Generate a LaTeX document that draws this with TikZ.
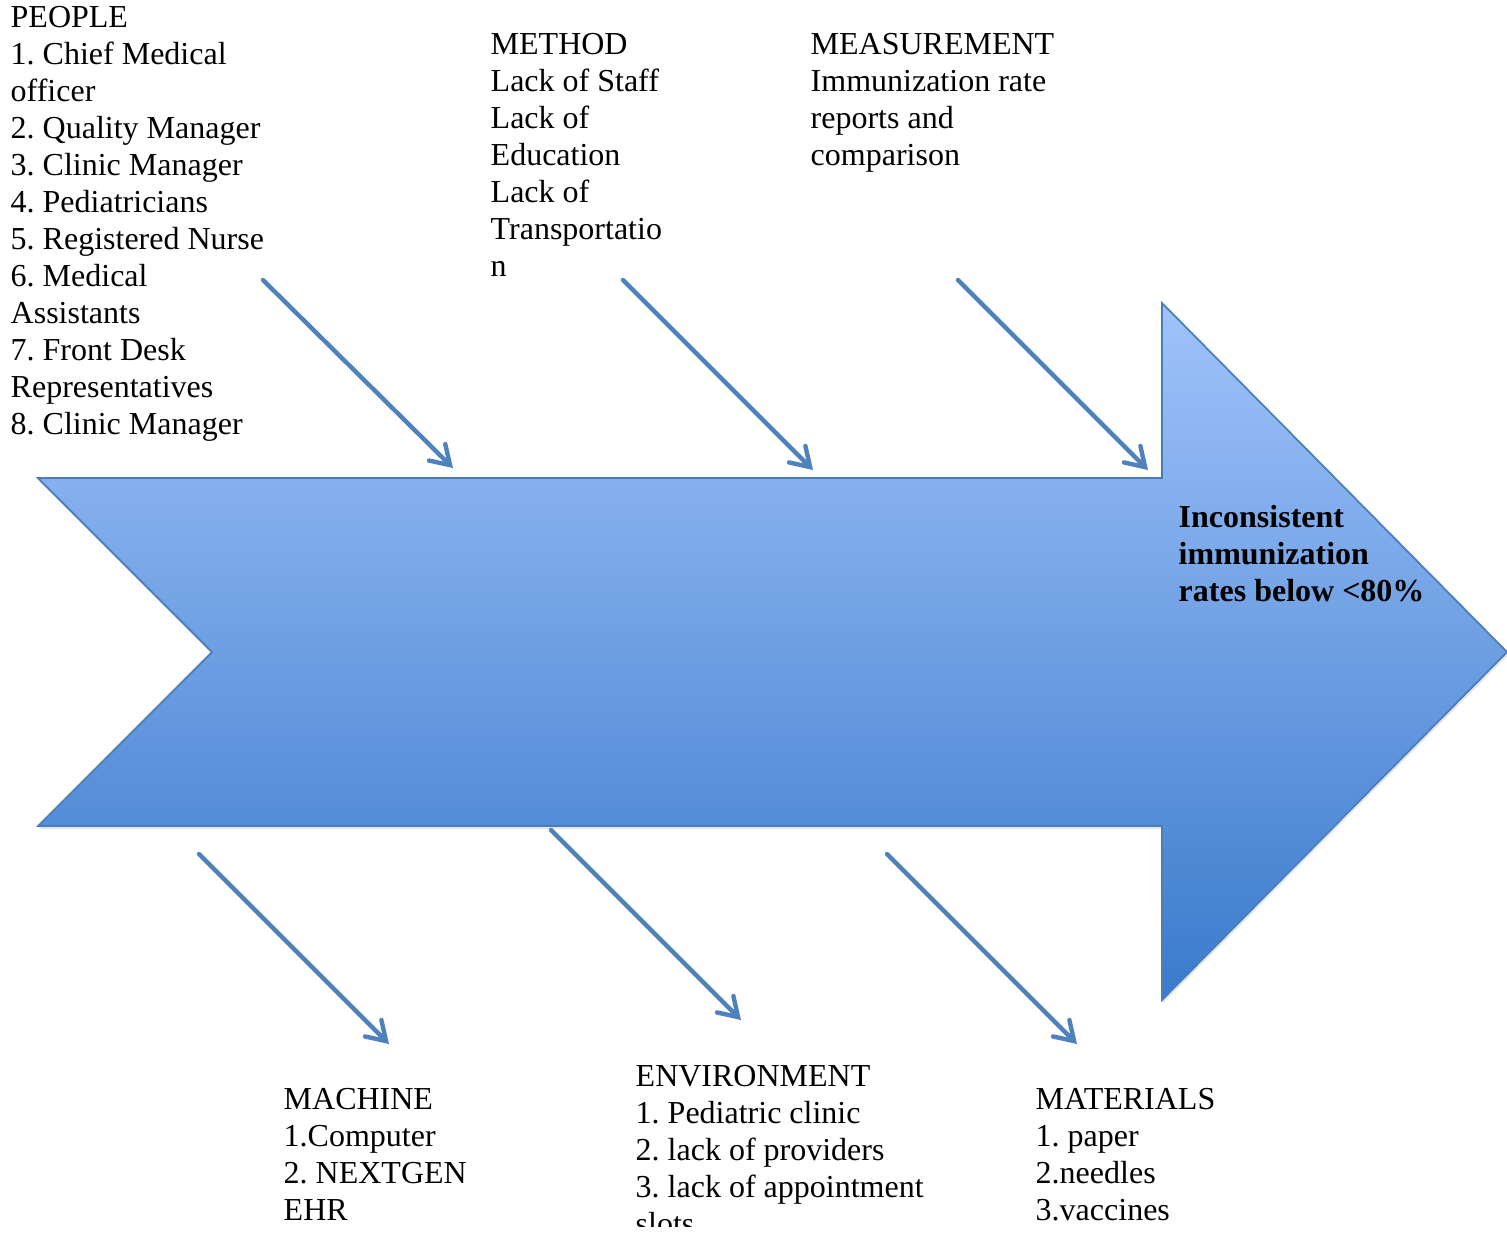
\documentclass[tikz,border=0pt]{standalone}
\usepackage{fontspec}
\setmainfont{Liberation Serif}
\usetikzlibrary{arrows.meta,shadows}
\frenchspacing

\definecolor{boneblue}{RGB}{79,129,189}
\definecolor{spineline}{RGB}{74,126,187}
\definecolor{spinetop}{RGB}{160,195,250}
\definecolor{spinebottom}{RGB}{58,122,204}

\begin{document}
\begin{tikzpicture}[
        x=0.01cm, y=-0.01cm,
        font=\fontsize{9.1}{10.5}\selectfont,
        % Text styles (placed by the baseline of the last line)
        cause/.style={
            anchor=base west,
            inner sep=0pt,
            align=left
        },
        effect/.style={
            cause,
            font=\fontsize{9.1}{10.5}\selectfont\bfseries
        },
        % Line styles
        bone/.style={
            -{Straight Barb[length=5.2pt,width=6.6pt,line cap=round]},
            line width=1.25pt,
            line cap=round,
            draw=boneblue
        },
        spine/.style={
            draw=spineline,
            line width=0.5pt,
            line join=miter,
            top color=spinetop,
            bottom color=spinebottom,
            drop shadow={opacity=0.2, shadow xshift=0.3pt, shadow yshift=-0.9pt}
        }
    ]

    \useasboundingbox (0,0) rectangle (1507,1235);

    % Big arrow
    \coordinate (tailtop) at (38,478);
    \coordinate (notch) at (212,652);
    \coordinate (tailbot) at (38,826);
    \coordinate (shafttop) at (1162,478);
    \coordinate (headtop) at (1162,303);
    \coordinate (tip) at (1507,652);
    \coordinate (headbot) at (1162,1000);
    \coordinate (shaftbot) at (1162,826);
    \path[spine] (tailtop) -- (shafttop) -- (headtop) -- (tip) -- (headbot)
        -- (shaftbot) -- (tailbot) -- (notch) -- cycle;

    % Effect
    \node[effect] (effect) at (1178,601) {Inconsistent\\immunization\\rates below <80\%};

    % Causes above
    \node[cause] (people) at (10,434) {PEOPLE\\1. Chief Medical\\officer\\2. Quality Manager\\3. Clinic Manager\\4. Pediatricians\\5. Registered Nurse\\6. Medical\\Assistants\\7. Front Desk\\Representatives\\8. Clinic Manager};
    \node[cause] (method) at (490,276) {METHOD\\Lack of Staff\\Lack of\\Education\\Lack of\\Transportatio\\n};
    \node[cause] (measure) at (810,165) {MEASUREMENT\\Immunization rate\\reports and\\comparison};

    % Causes below
    \node[cause] (machine) at (283,1220) {MACHINE\\1.Computer\\2. NEXTGEN\\EHR};
    \begin{scope}
        \clip (0,0) rectangle (1507,1226);
        \node[cause] (environ) at (635,1234) {ENVIRONMENT\\1. Pediatric clinic\\2. lack of providers\\3. lack of appointment\\slots};
    \end{scope}
    \node[cause] (material) at (1035,1220) {MATERIALS\\1. paper\\2.needles\\3.vaccines};

    % Bones
    \coordinate (peopleS) at (263,280);
    \coordinate (peopleE) at (453,468);
    \coordinate (methodS) at (623,280);
    \coordinate (methodE) at (813,470);
    \coordinate (measureS) at (958,280);
    \coordinate (measureE) at (1148,470);
    \coordinate (machineS) at (199,854);
    \coordinate (machineE) at (389,1044);
    \coordinate (environS) at (551,830);
    \coordinate (environE) at (741,1020);
    \coordinate (materialS) at (887,854);
    \coordinate (materialE) at (1077,1044);

    \draw[bone] (peopleS) -- (peopleE);
    \draw[bone] (methodS) -- (methodE);
    \draw[bone] (measureS) -- (measureE);
    \draw[bone] (machineS) -- (machineE);
    \draw[bone] (environS) -- (environE);
    \draw[bone] (materialS) -- (materialE);

\end{tikzpicture}
\end{document}
